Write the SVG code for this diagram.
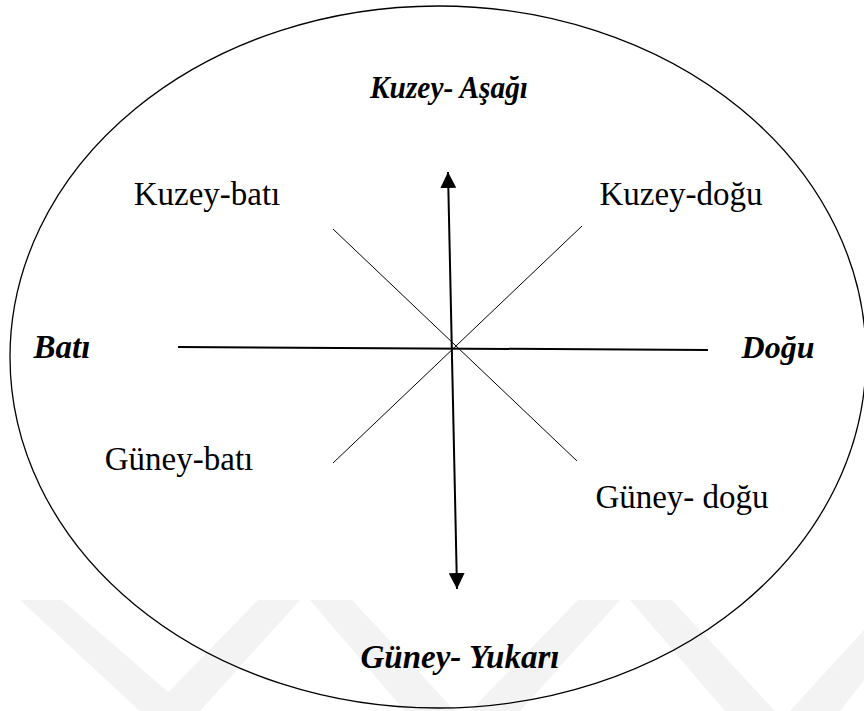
<svg xmlns="http://www.w3.org/2000/svg" width="864" height="711" viewBox="0 0 864 711">
  <defs>
    <style>
      .lbl { font-family: "Liberation Serif", "Times New Roman", serif; font-size: 33px; fill: #000; text-anchor: middle; }
      .bi { font-weight: bold; font-style: italic; font-size: 32px; }
      .diag { stroke: #000; stroke-width: 1; fill: none; }
      .axis { stroke: #000; stroke-width: 2; fill: none; }
      .wm { fill: #f3f3f3; }
    </style>
    <marker id="ah" viewBox="0 0 16 16" refX="16" refY="8" markerWidth="16" markerHeight="16" markerUnits="userSpaceOnUse" orient="auto">
      <path d="M0,0 L16,8 L0,16 Z" fill="#000"/>
    </marker>
  </defs>
  <rect width="864" height="711" fill="#fff"/>
  <g id="watermark">
    <polygon class="wm" points="20,600 62,600 190,711 140,711"/>
    <polygon class="wm" points="150,711 200,711 300,600 258,600"/>
    <polygon class="wm" points="310,600 352,600 455,711 405,711"/>
    <polygon class="wm" points="470,711 520,711 620,600 578,600"/>
    <polygon class="wm" points="630,600 672,600 775,711 725,711"/>
    <polygon class="wm" points="790,711 840,711 864,680 864,630"/>
  </g>
  <g id="boundary">
    <ellipse cx="438" cy="357" rx="428" ry="351" fill="none" stroke="#000" stroke-width="1.3"/>
  </g>
  <g id="connectors">
    <line class="diag" x1="333" y1="229" x2="577" y2="461"/>
    <line class="diag" x1="582" y1="226" x2="333" y2="463"/>
    <line class="axis" x1="178" y1="347" x2="708" y2="350"/>
    <line class="axis" x1="452.5" y1="380" x2="448" y2="172" marker-end="url(#ah)"/>
    <line class="axis" x1="452.5" y1="380" x2="457" y2="589" marker-end="url(#ah)"/>
  </g>
  <g id="n-kuzey-asagi"><text class="lbl bi" x="449" y="98" style="font-size:32px" textLength="158" lengthAdjust="spacingAndGlyphs">Kuzey- Aşağı</text></g>
  <g id="n-kuzey-bati"><text class="lbl" x="207" y="205">Kuzey-batı</text></g>
  <g id="n-kuzey-dogu"><text class="lbl" x="681" y="205">Kuzey-doğu</text></g>
  <g id="n-bati"><text class="lbl bi" x="62" y="358" style="font-size:33px">Batı</text></g>
  <g id="n-dogu"><text class="lbl bi" x="778" y="358">Doğu</text></g>
  <g id="n-guney-bati"><text class="lbl" x="179" y="470">Güney-batı</text></g>
  <g id="n-guney-dogu"><text class="lbl" x="682" y="508">Güney- doğu</text></g>
  <g id="n-guney-yukari"><text class="lbl bi" x="460" y="668" style="font-size:33px">Güney- Yukarı</text></g>
</svg>
